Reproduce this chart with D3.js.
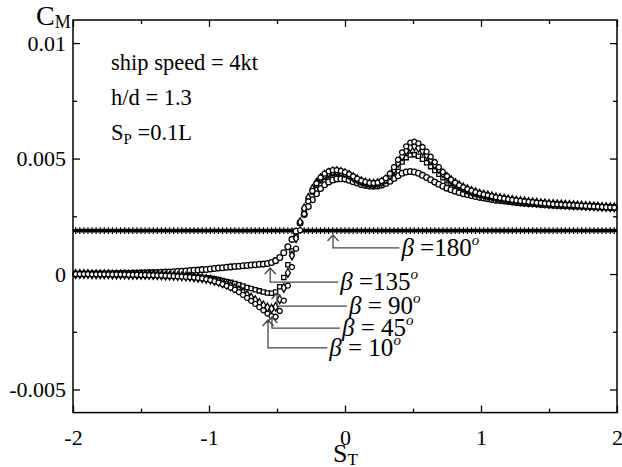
<!DOCTYPE html>
<html>
<head>
<meta charset="utf-8">
<script src="https://cdn.jsdelivr.net/npm/d3@7"></script>
<style>
  body { margin: 0; background: #fff; }
  svg { display: block; }
  text { font-family: "Liberation Serif", "Times New Roman", serif; fill: #000; }
</style>
</head>
<body>
<svg id="chart" width="622" height="467"></svg>
<script>
// sample positions along S_T, one marker every 0.03
var stValues = d3.range(0, 133).map(function(i) { return -1.98 + 0.03 * i; });

// C_M readings, in units of 1e-3
var beta10 = [0, 0, 0, 0, -0.01, -0.01, -0.01, -0.01, -0.01, -0.02, -0.02,
  -0.02, -0.02, -0.03, -0.03, -0.03, -0.04, -0.04, -0.05, -0.05, -0.06, -0.06,
  -0.07, -0.08, -0.09, -0.1, -0.11, -0.12, -0.13, -0.15, -0.17, -0.19, -0.22,
  -0.26, -0.31, -0.37, -0.44, -0.51, -0.59, -0.68, -0.78, -0.9, -1.03, -1.16, -1.29, -1.43, -1.57, -1.71, -1.82, -1.85,
  -1.6, -1.15, -0.5, 0.3, 1.1, 1.9, 2.6, 3.15, 3.6, 3.93, 4.18, 4.35, 4.45, 4.5, 4.5, 4.47, 4.41,
  4.33, 4.23, 4.13, 4.05, 3.99, 3.95, 3.94, 3.96, 4.03, 4.15, 4.35, 4.63, 4.95, 5.27, 5.53, 5.69, 5.73,
  5.66, 5.5, 5.3, 5.08, 4.85, 4.63, 4.42, 4.24, 4.09, 3.96, 3.85, 3.76, 3.68, 3.61, 3.55, 3.49, 3.45,
  3.41, 3.37, 3.33, 3.3, 3.27, 3.24, 3.21, 3.19, 3.17, 3.15, 3.13, 3.11, 3.09, 3.08, 3.06, 3.05,
  3.03, 3.02, 3.01, 3.0, 2.99, 2.98, 2.97, 2.96, 2.95, 2.94, 2.93, 2.92, 2.91, 2.9, 2.89, 2.88];

var beta45 = [0, 0, 0, 0, -0.01, -0.01, -0.01, -0.01, -0.01, -0.02, -0.02,
  -0.02, -0.02, -0.03, -0.03, -0.03, -0.04, -0.04, -0.04, -0.05, -0.05, -0.06,
  -0.07, -0.07, -0.08, -0.09, -0.1, -0.11, -0.12, -0.14, -0.16, -0.18, -0.21,
  -0.24, -0.29, -0.34, -0.4, -0.46, -0.53, -0.61, -0.7, -0.8, -0.91, -1.02, -1.13, -1.25, -1.36, -1.45, -1.5, -1.42,
  -1.1, -0.6, 0.05, 0.8, 1.55, 2.25, 2.85, 3.3, 3.68, 3.95, 4.15, 4.29, 4.38, 4.44, 4.45, 4.42, 4.37,
  4.29, 4.19, 4.1, 4.02, 3.96, 3.92, 3.91, 3.93, 3.99, 4.1, 4.28, 4.52, 4.81, 5.1, 5.34, 5.49, 5.53,
  5.47, 5.33, 5.15, 4.95, 4.74, 4.54, 4.36, 4.2, 4.06, 3.94, 3.84, 3.75, 3.67, 3.6, 3.54, 3.48, 3.44,
  3.4, 3.36, 3.32, 3.29, 3.26, 3.23, 3.21, 3.18, 3.16, 3.14, 3.12, 3.1, 3.09, 3.07, 3.06, 3.04,
  3.03, 3.02, 3.01, 3.0, 2.99, 2.98, 2.97, 2.96, 2.95, 2.94, 2.93, 2.92, 2.91, 2.9, 2.89, 2.88];

var beta90 = [0, 0, 0, 0, 0, -0.01, -0.01, -0.01, -0.01, -0.01, -0.02,
  -0.02, -0.02, -0.02, -0.03, -0.03, -0.03, -0.04, -0.04, -0.04, -0.05, -0.05,
  -0.06, -0.06, -0.07, -0.08, -0.09, -0.1, -0.11, -0.12, -0.13, -0.15, -0.16,
  -0.18, -0.21, -0.24, -0.28, -0.32, -0.36, -0.41, -0.46, -0.52, -0.58, -0.63, -0.68, -0.73, -0.78, -0.82, -0.83, -0.78,
  -0.55, -0.15, 0.4, 1.0, 1.6, 2.2, 2.75, 3.2, 3.55, 3.83, 4.04, 4.19, 4.29, 4.36, 4.39, 4.37, 4.32,
  4.25, 4.16, 4.07, 3.99, 3.93, 3.89, 3.88, 3.9, 3.95, 4.04, 4.19, 4.39, 4.62, 4.85, 5.04, 5.15, 5.17,
  5.1, 4.97, 4.82, 4.65, 4.48, 4.32, 4.17, 4.04, 3.92, 3.82, 3.73, 3.65, 3.58, 3.52, 3.47, 3.43, 3.39,
  3.35, 3.32, 3.29, 3.26, 3.23, 3.21, 3.19, 3.17, 3.15, 3.13, 3.11, 3.1, 3.08, 3.07, 3.05, 3.04,
  3.03, 3.02, 3.01, 3.0, 2.99, 2.98, 2.97, 2.96, 2.95, 2.94, 2.93, 2.92, 2.91, 2.9, 2.89, 2.88];

var beta135 = [0, 0, 0, 0.01, 0.01, 0.01, 0.01, 0.01, 0.02, 0.02, 0.02,
  0.03, 0.03, 0.03, 0.04, 0.04, 0.05, 0.05, 0.06, 0.06, 0.07, 0.08,
  0.09, 0.09, 0.1, 0.11, 0.12, 0.13, 0.15, 0.16, 0.17, 0.19, 0.2,
  0.22, 0.24, 0.26, 0.27, 0.29, 0.31, 0.33, 0.34, 0.36, 0.37, 0.39, 0.4, 0.42, 0.43, 0.46, 0.5, 0.58,
  0.72, 0.92, 1.18, 1.5, 1.85, 2.22, 2.58, 2.92, 3.22, 3.48, 3.7, 3.87, 3.99, 4.07, 4.12, 4.13, 4.11,
  4.06, 4.0, 3.94, 3.88, 3.84, 3.81, 3.8, 3.81, 3.85, 3.92, 4.02, 4.14, 4.26, 4.36, 4.42, 4.44, 4.42,
  4.36, 4.28, 4.18, 4.08, 3.98, 3.89, 3.8, 3.72, 3.65, 3.59, 3.53, 3.48, 3.44, 3.4, 3.36, 3.32, 3.29,
  3.26, 3.23, 3.2, 3.18, 3.16, 3.14, 3.12, 3.1, 3.08, 3.07, 3.05, 3.04, 3.03, 3.01, 3.0, 2.99,
  2.98, 2.97, 2.96, 2.96, 2.95, 2.94, 2.93, 2.93, 2.92, 2.91, 2.91, 2.9, 2.89, 2.89, 2.88, 2.88];

// beta = 180 stays flat
var beta180Level = 1.88;

var xTicks = [-2, -1, 0, 1, 2];
var xMinorTicks = [-1.5, -0.5, 0.5, 1.5];
var yTicks = [-0.005, 0, 0.005, 0.01];
var yMinorTicks = [-0.0025, 0.0025, 0.0075];
var xTickLabels = ["-2", "-1", "0", "1", "2"];
var yTickLabels = ["-0.005", "0", "0.005", "0.01"];

var infoLines = ["ship speed = 4kt", "h/d = 1.3"];
var betaLabels = ["180", "135", "90", "45", "10"];

var plotLeft = 73, plotRight = 617, plotTop = 20, plotBottom = 412.6;

var svg = d3.select("#chart");

var x = d3.scaleLinear().domain([-2, 2]).range([plotLeft, plotRight]);
var y = d3.scaleLinear().domain([-0.006, 0.011]).range([plotBottom, plotTop]);

// ticks on all four sides, pointing inward
function styleAxis(g) {
    g.select(".domain").remove();
    g.selectAll("line").attr("stroke", "#000").attr("stroke-width", 1.3);
    g.selectAll("text").style("font-family", "'Liberation Serif', serif").style("font-size", "22px").attr("fill", "#000");
}

svg.append("g").attr("transform", `translate(0,${plotBottom})`)
    .call(d3.axisBottom(x).tickValues(xTicks).tickSize(-7).tickSizeOuter(0).tickPadding(17)
        .tickFormat(function(d, i) { return xTickLabels[i]; }))
    .call(styleAxis);

svg.append("g").attr("transform", `translate(0,${plotBottom})`)
    .call(d3.axisBottom(x).tickValues(xMinorTicks).tickSize(-4).tickSizeOuter(0).tickFormat(""))
    .call(styleAxis);

svg.append("g").attr("transform", `translate(0,${plotTop})`)
    .call(d3.axisTop(x).tickValues(xTicks).tickSize(-7).tickSizeOuter(0).tickFormat(""))
    .call(styleAxis);
svg.append("g").attr("transform", `translate(0,${plotTop})`)
    .call(d3.axisTop(x).tickValues(xMinorTicks).tickSize(-4).tickSizeOuter(0).tickFormat(""))
    .call(styleAxis);

svg.append("g").attr("transform", `translate(${plotLeft},0)`)
    .call(d3.axisLeft(y).tickValues(yTicks).tickSize(-7).tickSizeOuter(0).tickPadding(7)
        .tickFormat(function(d, i) { return yTickLabels[i]; }))
    .call(styleAxis);
svg.append("g").attr("transform", `translate(${plotLeft},0)`)
    .call(d3.axisLeft(y).tickValues(yMinorTicks).tickSize(-4).tickSizeOuter(0).tickFormat(""))
    .call(styleAxis);

svg.append("g").attr("transform", `translate(${plotRight},0)`)
    .call(d3.axisRight(y).tickValues(yTicks).tickSize(-7).tickSizeOuter(0).tickFormat(""))
    .call(styleAxis);
svg.append("g").attr("transform", `translate(${plotRight},0)`)
    .call(d3.axisRight(y).tickValues(yMinorTicks).tickSize(-4).tickSizeOuter(0).tickFormat(""))
    .call(styleAxis);

svg.append("rect")
    .attr("x", plotLeft).attr("y", plotTop)
    .attr("width", plotRight - plotLeft).attr("height", plotBottom - plotTop)
    .attr("fill", "none").attr("stroke", "#000").attr("stroke-width", 1.5);

// axis titles
var cm = svg.append("text").attr("x", 36).attr("y", 25).style("font-size", "28px");
cm.append("tspan").text("C");
cm.append("tspan").attr("dy", 3).style("font-size", "18px").text("M");

var stl = svg.append("text").attr("x", 333).attr("y", 462).style("font-size", "26px");
stl.append("tspan").text("S");
stl.append("tspan").attr("dy", 3).style("font-size", "17px").text("T");

// info block
infoLines.forEach(function(t, i) {
    svg.append("text").attr("x", 111).attr("y", 70 + i * 35).style("font-size", "22.5px").text(t);
});
var sp = svg.append("text").attr("x", 111).attr("y", 140).style("font-size", "22.5px");
sp.append("tspan").text("S");
sp.append("tspan").attr("dy", 4).style("font-size", "15px").text("P");
sp.append("tspan").attr("dy", -4).text(" =0.1L");

// beta = 180 flat line
var flat = svg.append("g");
flat.append("line")
    .attr("x1", x(-2)).attr("x2", x(2))
    .attr("y1", y(beta180Level / 1000)).attr("y2", y(beta180Level / 1000))
    .attr("stroke", "#000").attr("stroke-width", 2.6);
flat.selectAll("path")
    .data(stValues)
    .enter().append("path")
    .attr("transform", function(d) { return `translate(${x(d)},${y(beta180Level / 1000)})`; })
    .attr("d", d3.symbol().type(d3.symbolAsterisk).size(30))
    .attr("stroke", "#000").attr("stroke-width", 1.3).attr("fill", "none");

// curves drawn as dense hollow markers
var seriesList = [
    { values: beta135, shape: d3.symbolCircle, size: 26 },
    { values: beta90, shape: d3.symbolSquare, size: 18 },
    { values: beta45, shape: d3.symbolDiamond, size: 22 },
    { values: beta10, shape: d3.symbolCircle, size: 20 }
];

seriesList.forEach(function(s) {
    svg.append("g").selectAll("path")
        .data(stValues)
        .enter().append("path")
        .attr("transform", function(d, i) { return `translate(${x(d)},${y(s.values[i] / 1000)})`; })
        .attr("d", d3.symbol().type(s.shape).size(s.size))
        .attr("fill", "#fff").attr("stroke", "#000").attr("stroke-width", 1.3);
});

// leader arrows with labels (tip in data units, elbow y in data units, end x in data units)
var notes = [
    { label: betaLabels[0], tip: [-0.088, 1.69], elbowY: 1.13, endX: 0.40, gap: " =" },
    { label: betaLabels[1], tip: [-0.55, 0.26], elbowY: -0.35, endX: -0.05, gap: " =" },
    { label: betaLabels[2], tip: [-0.50, -0.82], elbowY: -1.39, endX: 0.015, gap: " = " },
    { label: betaLabels[3], tip: [-0.537, -1.86], elbowY: -2.34, endX: -0.037, gap: " = " },
    { label: betaLabels[4], tip: [-0.566, -1.99], elbowY: -3.2, endX: -0.13, gap: " = " }
];

notes.forEach(function(n) {
    var tx = x(n.tip[0]), ty = y(n.tip[1] / 1000);
    var ey = y(n.elbowY / 1000), ex = x(n.endX);
    svg.append("path")
        .attr("d", `M${tx - 5.5},${ty + 6}L${tx},${ty}L${tx + 5.5},${ty + 6}M${tx},${ty}L${tx},${ey}L${ex},${ey}`)
        .attr("fill", "none").attr("stroke", "#444").attr("stroke-width", 1.3);
    var t = svg.append("text").attr("x", ex + 2).attr("y", ey + 8).style("font-size", "25px");
    t.append("tspan").style("font-style", "italic").text("β");
    t.append("tspan").text(n.gap + n.label);
    t.append("tspan").attr("dy", -11).style("font-size", "15px").style("font-style", "italic").text("o");
});
</script>
</body>
</html>
